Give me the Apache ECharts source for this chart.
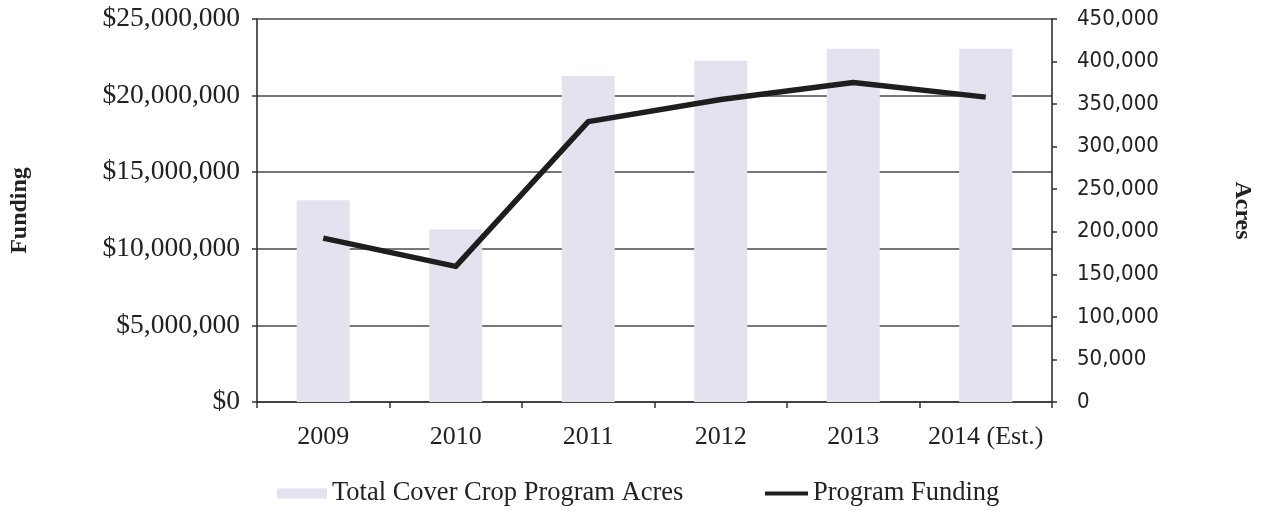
<!DOCTYPE html>
<html>
<head>
<meta charset="utf-8">
<script src="https://cdn.jsdelivr.net/npm/echarts@6/dist/echarts.min.js"></script>
<style>
  html, body { margin: 0; padding: 0; background: #ffffff; }
  #chart { width: 1262px; height: 512px; }
</style>
</head>
<body>
<div id="chart"></div>
<script>
// Cover crop program: acres enrolled (bars, right axis) and funding (line, left axis)
const years = ['2009', '2010', '2011', '2012', '2013', '2014 (Est.)'];
const acres = [237000, 203000, 383000, 401000, 415000, 415000];
const funding = [10700000, 8850000, 18300000, 19750000, 20850000, 19900000];

const serif = '"Liberation Serif", "Times New Roman", serif';
const sans = '"DejaVu Sans Condensed", "DejaVu Sans", sans-serif';
const ink = '#222222';

function withCommas(v) {
  return String(v).replace(/\B(?=(\d{3})+(?!\d))/g, ',');
}

const chart = echarts.init(document.getElementById('chart'), null, { renderer: 'canvas' });

chart.setOption({
  animation: false,
  backgroundColor: '#ffffff',
  grid: { left: 256, right: 205, top: 19, bottom: 110, containLabel: false },
  legend: [
    {
      data: ['Total Cover Crop Program Acres'],
      left: 272, top: 475,
      itemWidth: 50, itemHeight: 10, icon: 'rect',
      textStyle: { fontFamily: serif, fontSize: 26.5, color: ink }
    },
    {
      data: ['Program Funding'],
      left: 760, top: 475,
      itemWidth: 43, itemHeight: 4, icon: 'rect',
      textStyle: { fontFamily: serif, fontSize: 26.5, color: ink }
    }
  ],
  xAxis: {
    type: 'category',
    data: years,
    boundaryGap: true,
    axisLine: { lineStyle: { color: '#333', width: 1.5 } },
    axisTick: { show: true, interval: 0, length: 6, lineStyle: { color: '#333', width: 1.5 } },
    axisLabel: { interval: 0, fontFamily: serif, fontSize: 26, color: ink, margin: 22 }
  },
  yAxis: [
    {
      type: 'value',
      position: 'left',
      min: 0, max: 25000000, interval: 5000000,
      name: 'Funding',
      nameLocation: 'middle',
      nameRotate: 90,
      nameGap: 225,
      nameTextStyle: { fontFamily: serif, fontSize: 24, fontWeight: 'bold', color: ink },
      axisLine: { show: true, lineStyle: { color: '#222', width: 1.5 } },
      axisTick: { show: true, length: 5, lineStyle: { color: '#333', width: 1.5 } },
      axisLabel: {
        fontFamily: serif, fontSize: 27.5, color: ink, margin: 17,
        formatter: v => '$' + withCommas(v)
      },
      splitLine: { show: true, lineStyle: { color: '#4a4a4a', width: 1.5 } }
    },
    {
      type: 'value',
      position: 'right',
      min: 0, max: 450000, interval: 50000,
      name: 'Acres',
      nameLocation: 'middle',
      nameRotate: -90,
      nameGap: 178,
      nameTextStyle: { fontFamily: serif, fontSize: 24, fontWeight: 'bold', color: ink },
      axisLine: { show: true, lineStyle: { color: '#222', width: 1.5 } },
      axisTick: { show: true, length: 5, lineStyle: { color: '#333', width: 1.5 } },
      axisLabel: {
        fontFamily: sans, fontSize: 22, color: ink, margin: 25,
        formatter: v => withCommas(v)
      },
      splitLine: { show: false }
    }
  ],
  series: [
    {
      name: 'Total Cover Crop Program Acres',
      type: 'bar',
      yAxisIndex: 1,
      data: acres,
      barWidth: '40%',
      itemStyle: { color: '#e2e3ef' }
    },
    {
      name: 'Program Funding',
      type: 'line',
      yAxisIndex: 0,
      data: funding,
      showSymbol: false,
      symbol: 'none',
      lineStyle: { color: '#1e1e1e', width: 5.5, join: 'round' },
      itemStyle: { color: '#1e1e1e' },
      z: 5
    }
  ]
});
</script>
</body>
</html>
